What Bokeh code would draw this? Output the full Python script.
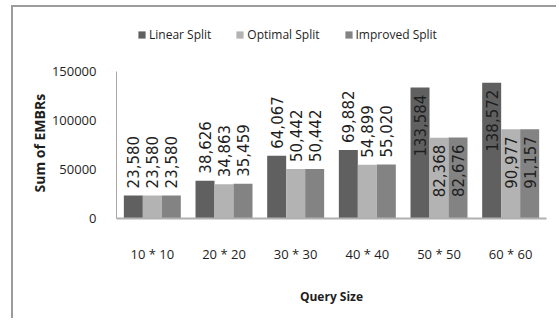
import math
from bokeh.plotting import figure
from bokeh.models import (ColumnDataSource, FactorRange, Legend, LegendItem,
                          FixedTicker, NumeralTickFormatter, Title)
from bokeh.transform import dodge
from bokeh.core.properties import value
from bokeh.embed import file_html
from bokeh.resources import INLINE

categories = ["10 * 10", "20 * 20", "30 * 30", "40 * 40", "50 * 50", "60 * 60"]
series_names = ["Linear Split", "Optimal Split", "Improved Split"]
linear = [23580, 38626, 64067, 69882, 133584, 138572]
optimal = [23580, 34863, 50442, 54899, 82368, 90977]
improved = [23580, 35459, 50442, 55020, 82676, 91157]
y_ticks = [0, 50000, 100000, 150000]

colors = ["#606060", "#b3b3b3", "#838383"]
series_values = [linear, optimal, improved]
offsets = [-0.265, 0.0, 0.265]
bar_w = 0.265
LABEL_FONT = "DejaVu Sans"
FONT = "Open Sans"

# frame layout: plot area 147px for 0..150000, plus room above for the legend
axis_max = 150000
plot_px = 147
frame_px = 197
y_end = axis_max * frame_px / plot_px

p = figure(x_range=FactorRange(*categories), y_range=(0, y_end),
           width=545, height=313, output_backend="svg", toolbar_location=None,
           min_border_left=103, min_border_right=12, min_border_top=14,
           min_border_bottom=102)
p.margin = (5, 0, 0, 11)
p.styles = {"border-top": "2px solid #9c9c9c", "border-left": "2px solid #9c9c9c"}
p.outline_line_color = None
p.xgrid.grid_line_color = None
p.ygrid.grid_line_color = None
p.background_fill_color = "white"
p.border_fill_color = "white"

renderers = []
for name, vals, col, off in zip(series_names, series_values, colors, offsets):
    labels = [f"{v:,}" for v in vals]
    src = ColumnDataSource(dict(cat=categories, val=vals, lab=labels))
    r = p.vbar(x=dodge("cat", off, range=p.x_range), top="val", width=bar_w,
               source=src, fill_color=col, line_color=None)
    renderers.append(r)
    # outside-end labels for shorter bars, inside-end for the tall ones
    out_idx = [i for i, v in enumerate(vals) if v < 80000]
    in_idx = [i for i, v in enumerate(vals) if v >= 80000]
    for idx, align, yoff in ((out_idx, "left", -7), (in_idx, "right", 7)):
        if not idx:
            continue
        s2 = ColumnDataSource(dict(cat=[categories[i] for i in idx],
                                   val=[vals[i] for i in idx],
                                   lab=[labels[i] for i in idx]))
        p.text(x=dodge("cat", off, range=p.x_range), y="val", text="lab",
               source=s2, angle=math.pi / 2, text_align=align,
               text_baseline="middle", y_offset=yoff,
               text_font=value(LABEL_FONT), text_font_size="15px",
               text_color="#1e1e1e")

# axes
p.yaxis.ticker = FixedTicker(ticks=y_ticks)
p.yaxis.bounds = (0, axis_max)
p.yaxis.formatter = NumeralTickFormatter(format="0")
p.yaxis.major_tick_line_color = None
p.yaxis.minor_tick_line_color = None
p.yaxis.axis_line_color = "#a8a8a8"
p.yaxis.major_label_text_font = FONT
p.yaxis.major_label_text_font_size = "13px"
p.yaxis.major_label_text_color = "#1e1e1e"
p.yaxis.major_label_standoff = 14

# y-axis title centred on the 0..150000 part of the axis
ytitle = Title(text="Sum of EMBRs", align="left", offset=26, standoff=0,
               text_font=FONT, text_font_style="bold", text_font_size="14px",
               text_color="#1e1e1e")
p.add_layout(ytitle, "left")

p.xaxis.major_tick_line_color = None
p.xaxis.minor_tick_line_color = None
p.xaxis.axis_line_color = "#b0b0b0"
p.xaxis.axis_line_width = 2
p.xaxis.major_label_text_font = FONT
p.xaxis.major_label_text_font_size = "13px"
p.xaxis.major_label_text_color = "#1e1e1e"
p.xaxis.major_label_standoff = 20
p.xaxis.axis_label = "Query Size"
p.xaxis.axis_label_text_font = FONT
p.xaxis.axis_label_text_font_style = "bold"
p.xaxis.axis_label_text_font_size = "12px"
p.xaxis.axis_label_text_color = "#1e1e1e"
p.xaxis.axis_label_standoff = 22

legend = Legend(items=[LegendItem(label=n, renderers=[r]) for n, r in zip(series_names, renderers)],
                orientation="horizontal", location=(21, frame_px - 22),
                glyph_width=9, glyph_height=9, label_standoff=3, spacing=24,
                padding=0, margin=0, border_line_color=None,
                background_fill_alpha=0, label_text_font=FONT,
                label_text_font_size="12px", label_text_color="#1e1e1e")
p.add_layout(legend, "center")

open("out.html", "w").write(file_html(p, INLINE))
